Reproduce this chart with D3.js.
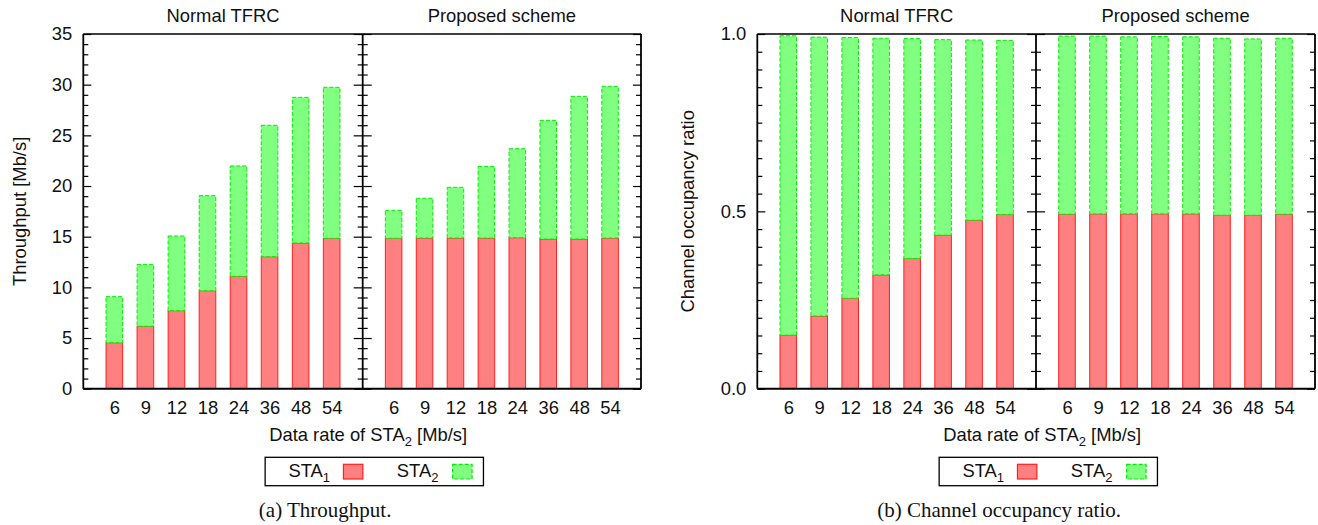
<!DOCTYPE html>
<html><head><meta charset="utf-8">
<script src="https://cdn.jsdelivr.net/npm/d3@7"></script>
<style>
html,body{margin:0;padding:0;background:#fff;}
svg{display:block;}
text{font-family:"Liberation Sans",Arial,sans-serif;fill:#111;}
.cap{font-family:"Liberation Serif","Times New Roman",serif;}
</style></head>
<body>
<svg id="chart" width="1318" height="525"></svg>
<script>
// ---------- data ----------
const categories = ["6","9","12","18","24","36","48","54"];
const panelTitles = ["Normal TFRC","Proposed scheme"];
const seriesNames = ["STA1","STA2"];

// (a) Throughput [Mb/s]
const thrNormalSta1 = [4.54, 6.16, 7.70, 9.67, 11.09, 13.03, 14.38, 14.84];
const thrNormalSta2 = [4.54, 6.11, 7.37, 9.38, 10.89, 12.96, 14.37, 14.90];
const thrPropSta1   = [14.84, 14.87, 14.87, 14.87, 14.90, 14.77, 14.77, 14.87];
const thrPropSta2   = [2.76, 3.92, 5.00, 7.07, 8.78, 11.71, 14.08, 14.97];
const thrMajorTicks = [0, 5, 10, 15, 20, 25, 30, 35];

// (b) Channel occupancy ratio
const occNormalSta1 = [0.151, 0.205, 0.255, 0.321, 0.367, 0.433, 0.475, 0.491];
const occNormalSta2 = [0.844, 0.786, 0.735, 0.667, 0.620, 0.551, 0.508, 0.491];
const occPropSta1   = [0.492, 0.493, 0.493, 0.493, 0.493, 0.489, 0.489, 0.492];
const occPropSta2   = [0.502, 0.501, 0.499, 0.500, 0.499, 0.499, 0.497, 0.496];
const occMajorTicks = [0, 0.5, 1.0];

// ---------- drawing ----------
const svg = d3.select("#chart");
const colors = {
  STA1: {fill:"#ff8080", stroke:"#ff2020", dash:null},
  STA2: {fill:"#80ff80", stroke:"#00ee00", dash:"4,2"}
};

function drawChart(cfg){
  const g = svg.append("g");
  const top = 34, bottom = 388.7;
  const y = d3.scaleLinear().domain(cfg.domain).range([bottom, top]);
  const edges = [cfg.left, cfg.divider, cfg.right];
  const panels = [
    {s1: cfg.p1a, s2: cfg.p1b, x0: edges[0], x1: edges[1]},
    {s1: cfg.p2a, s2: cfg.p2b, x0: edges[1], x1: edges[2]}
  ];
  panels.forEach((p, pi) => {
    const x = d3.scalePoint().domain(categories).range([p.x0, p.x1]).padding(1);
    const bw = x.step() * 0.535;
    const rows = categories.map((c, i) => ({c, a: p.s1[i], b: p.s2[i]}));
    const stack = d3.stack().keys(["a","b"])(rows);
    stack.forEach((layer, li) => {
      const col = colors[seriesNames[li]];
      g.append("g").selectAll("rect").data(layer).join("rect")
        .attr("x", d => x(d.data.c) - bw/2)
        .attr("width", bw)
        .attr("y", d => y(d[1]))
        .attr("height", d => y(d[0]) - y(d[1]))
        .attr("fill", col.fill)
        .attr("stroke", col.stroke)
        .attr("stroke-width", 1)
        .attr("stroke-dasharray", col.dash);
    });
    // x tick labels
    const ax = d3.axisBottom(x).tickSize(0).tickPadding(0);
    const xg = g.append("g").attr("transform", `translate(0,${bottom})`).call(ax);
    xg.select(".domain").remove();
    xg.selectAll("text").attr("dy", null).attr("y", 25.3)
      .style("font-size","18.4px").style("font-family","Liberation Sans, Arial, sans-serif").attr("fill","#111");
    // panel title
    g.append("text").attr("x", (p.x0+p.x1)/2).attr("y", 21.5)
      .attr("text-anchor","middle").style("font-size","18.4px").text(panelTitles[pi]);
  });

  // ticks
  const minor = d3.range(cfg.domain[0], cfg.domain[1] + cfg.minorStep/2, cfg.minorStep)
    .filter(v => !cfg.major.some(m => Math.abs(m - v) < 1e-9));
  function tickAxis(gen, xpos, vals, size){
    const a = g.append("g").attr("transform", `translate(${xpos},0)`)
      .call(gen(y).tickValues(vals).tickSize(size).tickFormat(""));
    a.select(".domain").remove();
    a.selectAll("line").attr("stroke","#000").attr("stroke-width",1.2);
  }
  tickAxis(d3.axisRight, cfg.left, cfg.major, 8);
  tickAxis(d3.axisRight, cfg.left, minor, 5);
  tickAxis(d3.axisRight, cfg.divider, cfg.major, 9);
  tickAxis(d3.axisRight, cfg.divider, minor, 5);
  tickAxis(d3.axisLeft, cfg.divider, cfg.major, 9);
  tickAxis(d3.axisLeft, cfg.divider, minor, 5);
  tickAxis(d3.axisLeft, cfg.right, cfg.major, 8);
  tickAxis(d3.axisLeft, cfg.right, minor, 5);

  // y tick labels
  const ly = g.append("g").attr("transform", `translate(${cfg.left},0)`)
    .call(d3.axisLeft(y).tickValues(cfg.major).tickSize(0).tickPadding(11).tickFormat(cfg.fmt));
  ly.select(".domain").remove();
  ly.selectAll("text").style("font-size","18.4px").style("font-family","Liberation Sans, Arial, sans-serif").attr("fill","#111");

  // frame
  const fr = g.append("g").attr("stroke","#000").attr("fill","none");
  fr.append("line").attr("x1",cfg.left).attr("x2",cfg.right).attr("y1",top).attr("y2",top).attr("stroke-width",1.5);
  fr.append("line").attr("x1",cfg.left).attr("x2",cfg.right).attr("y1",bottom).attr("y2",bottom).attr("stroke-width",2);
  edges.forEach(ex => fr.append("line").attr("x1",ex).attr("x2",ex).attr("y1",top).attr("y2",bottom).attr("stroke-width",1.8));

  // y label
  g.append("text").attr("transform", `translate(${cfg.ylabX},${(top+bottom)/2}) rotate(-90)`)
    .attr("text-anchor","middle").style("font-size","18.4px").text(cfg.ylabel);

  const cx = (cfg.left + cfg.right) / 2;
  // x label
  const xl = g.append("text").attr("x", cx + 6).attr("y", 441).attr("text-anchor","middle").style("font-size","18.4px");
  xl.append("tspan").text("Data rate of STA");
  xl.append("tspan").attr("dy", 5).style("font-size","13px").text("2");
  xl.append("tspan").attr("dy", -5).text(" [Mb/s]");

  // legend
  const lx = cx - 97, ly0 = 457.3;
  const lg = g.append("g");
  lg.append("rect").attr("x", lx).attr("y", ly0).attr("width", 218.3).attr("height", 28.4)
    .attr("fill","#fff").attr("stroke","#000").attr("stroke-width",1.3);
  const legItems = [{name:"STA1", sub:"1", tx:23.3, sx:78.3}, {name:"STA2", sub:"2", tx:131.7, sx:187.5}];
  legItems.forEach(it => {
    const t = lg.append("text").attr("x", lx + it.tx).attr("y", 477.3).style("font-size","18.4px");
    t.append("tspan").text("STA");
    t.append("tspan").attr("dy", 5).style("font-size","13px").text(it.sub);
    const col = colors[it.name];
    lg.append("rect").attr("x", lx + it.sx).attr("y", 464.3).attr("width", 19.4).attr("height", 14.7)
      .attr("fill", col.fill).attr("stroke", col.stroke).attr("stroke-width", 1.2)
      .attr("stroke-dasharray", col.dash);
  });

  // caption
  g.append("text").attr("class","cap").attr("x", cx - 37).attr("y", 516.5).attr("text-anchor","middle")
    .style("font-size","21px").style("font-family","Liberation Serif, Times New Roman, serif").text(cfg.caption);
}

drawChart({
  left: 83.3, divider: 362.7, right: 641,
  domain: [0, 35], major: thrMajorTicks, minorStep: 1, fmt: d3.format("d"),
  p1a: thrNormalSta1, p1b: thrNormalSta2, p2a: thrPropSta1, p2b: thrPropSta2,
  ylabel: "Throughput [Mb/s]", ylabX: 25.5, caption: "(a)  Throughput."
});
drawChart({
  left: 757.3, divider: 1036, right: 1315,
  domain: [0, 1], major: occMajorTicks, minorStep: 0.05, fmt: d3.format(".1f"),
  p1a: occNormalSta1, p1b: occNormalSta2, p2a: occPropSta1, p2b: occPropSta2,
  ylabel: "Channel occupancy ratio", ylabX: 694, caption: "(b)  Channel occupancy ratio."
});
</script>
</body></html>
